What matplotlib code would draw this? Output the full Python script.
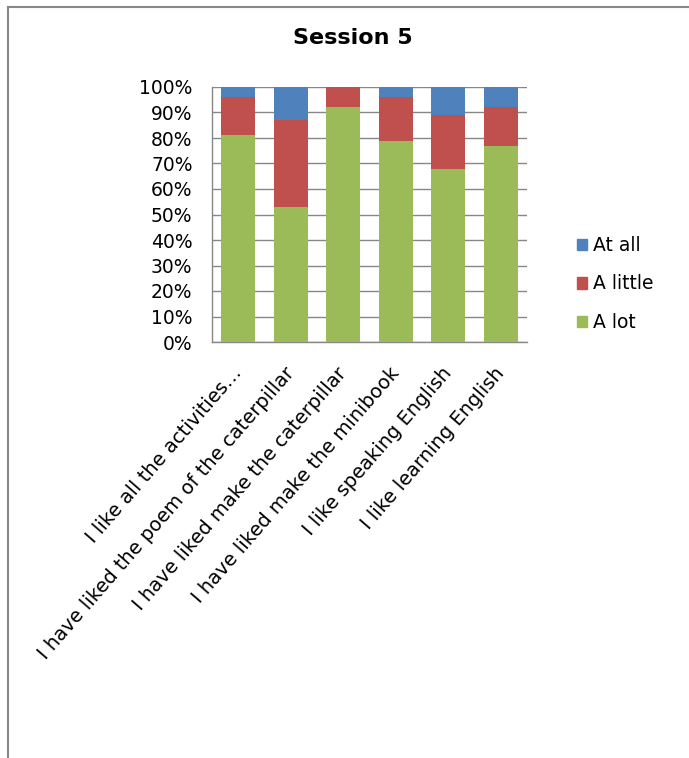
import matplotlib
matplotlib.use("Agg")
import matplotlib.pyplot as plt
from matplotlib.patches import Patch
from matplotlib.lines import Line2D
import numpy as np

# data (percent of answers)
questions = ["I like all the activities…",
             "I have liked the poem of the caterpillar",
             "I have liked make the caterpillar",
             "I have liked make the minibook",
             "I like speaking English",
             "I like learning English"]
a_lot = [81, 53, 92, 79, 68, 77]
a_little = [15, 34, 8, 17, 21, 15]
at_all = [4, 13, 0, 4, 11, 8]

c_lot = "#9BBB59"
c_little = "#C0504D"
c_all = "#4F81BD"
gray = "#878787"

plt.rcParams['font.family'] = ['DejaVu Sans']

fig = plt.figure(figsize=(6.89, 7.58), dpi=100)
ax = fig.add_axes([212/689, 1-342/758, 315/689, 255/758])

x = np.arange(len(questions))
w = 0.65
ax.bar(x, a_lot, w, color=c_lot, zorder=3)
ax.bar(x, a_little, w, bottom=a_lot, color=c_little, zorder=3)
bot2 = [a + b for a, b in zip(a_lot, a_little)]
ax.bar(x, at_all, w, bottom=bot2, color=c_all, zorder=3)

ax.set_xlim(-0.5, len(questions) - 0.5)
ax.set_ylim(0, 100)
ax.set_yticks(range(0, 101, 10))
ax.set_yticklabels([f"{v}%" for v in range(0, 101, 10)], fontsize=13.5)
ax.yaxis.grid(True, color=gray, linewidth=1, zorder=0)
ax.set_xticks(x)
ax.set_xticklabels(questions, rotation=49, ha="right", va="center",
                   rotation_mode="anchor", fontsize=14)
ax.tick_params(axis="both", length=0)
ax.tick_params(axis="y", pad=14)
ax.tick_params(axis="x", pad=20)
for s in ["top", "right"]:
    ax.spines[s].set_visible(False)
for s in ["left", "bottom"]:
    ax.spines[s].set_color(gray)
    ax.spines[s].set_linewidth(1)

fig.text(353/689, 1-38/758, "Session 5", ha="center", va="center",
         fontsize=16, fontweight="bold")

handles = [Patch(color=c_all), Patch(color=c_little), Patch(color=c_lot)]
fig.legend(handles, ["At all", "A little", "A lot"], loc="center left",
           bbox_to_anchor=(560/689, 1-284/758), frameon=False, fontsize=13.5,
           handlelength=0.55, handleheight=0.55, handletextpad=0.3, labelspacing=1.05)

# outer chart border (only left and top are in view)
fig.add_artist(Line2D([8/689, 8/689], [0, 1-7/758], color=gray, linewidth=1.5))
fig.add_artist(Line2D([8/689, 1], [1-7/758, 1-7/758], color=gray, linewidth=1.5))

fig.savefig("out.png", dpi=100)
